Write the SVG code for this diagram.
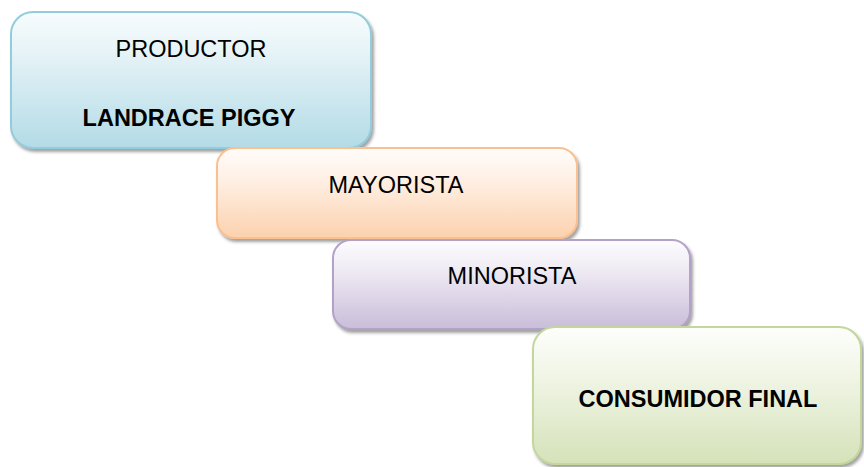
<svg xmlns="http://www.w3.org/2000/svg" width="864" height="467" viewBox="0 0 864 467">
  <defs>
    <linearGradient id="gBlue" x1="0" y1="0" x2="0" y2="1">
      <stop offset="0" stop-color="#f7fcfd"/>
      <stop offset="0.3" stop-color="#e6f3f7"/>
      <stop offset="1" stop-color="#b3dbe6"/>
    </linearGradient>
    <linearGradient id="gOrange" x1="0" y1="0" x2="0" y2="1">
      <stop offset="0" stop-color="#fffcfa"/>
      <stop offset="0.3" stop-color="#fff2e8"/>
      <stop offset="1" stop-color="#fcd1ae"/>
    </linearGradient>
    <linearGradient id="gPurple" x1="0" y1="0" x2="0" y2="1">
      <stop offset="0" stop-color="#fdfcfe"/>
      <stop offset="0.3" stop-color="#f1edf5"/>
      <stop offset="1" stop-color="#c9bdd9"/>
    </linearGradient>
    <linearGradient id="gGreen" x1="0" y1="0" x2="0" y2="1">
      <stop offset="0" stop-color="#fdfefb"/>
      <stop offset="0.3" stop-color="#f3f7ea"/>
      <stop offset="1" stop-color="#d5e2b9"/>
    </linearGradient>
    <filter id="shadow" x="-10%" y="-10%" width="120%" height="130%">
      <feDropShadow dx="2" dy="3" stdDeviation="1.8" flood-color="#555" flood-opacity="0.55"/>
    </filter>
  </defs>
  <style>
    .box { stroke-width: 2; filter: url(#shadow); }
    .lbl { font-family: "Liberation Sans", Arial, sans-serif; font-size: 23.5px; fill: #000; text-anchor: middle; }
    .bold { font-weight: bold; }
  </style>

  <g id="productor">
    <rect class="box" x="11" y="12" width="360" height="136" rx="22" fill="url(#gBlue)" stroke="#93cddd"/>
    <text class="lbl" x="191" y="57">PRODUCTOR</text>
    <text class="lbl bold" x="189" y="126">LANDRACE PIGGY</text>
  </g>

  <g id="mayorista">
    <rect class="box" x="217" y="148" width="360" height="90" rx="18" fill="url(#gOrange)" stroke="#fac090"/>
    <text class="lbl" x="396" y="193">MAYORISTA</text>
  </g>

  <g id="minorista">
    <rect class="box" x="333" y="240" width="357" height="89" rx="18" fill="url(#gPurple)" stroke="#b3a2c7"/>
    <text class="lbl" x="512" y="284">MINORISTA</text>
  </g>

  <g id="consumidor">
    <rect class="box" x="533" y="327" width="328" height="137" rx="22" fill="url(#gGreen)" stroke="#c3d69b"/>
    <text class="lbl bold" x="698" y="407">CONSUMIDOR FINAL</text>
  </g>

  <g id="connectors"/>
</svg>
